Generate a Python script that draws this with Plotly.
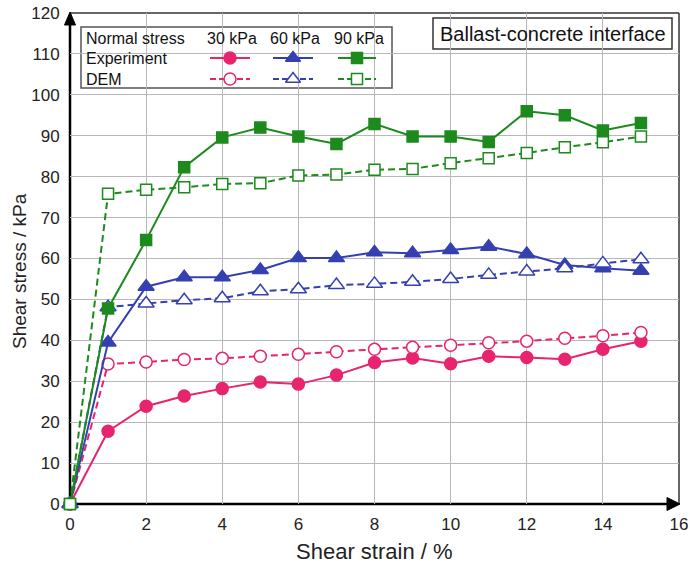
import plotly.graph_objects as go

# ---------------- data ----------------
strain = [0, 1, 2, 3, 4, 5, 6, 7, 8, 9, 10, 11, 12, 13, 14, 15]

exp_30 = [0, 17.8, 23.9, 26.4, 28.2, 29.8, 29.3, 31.5, 34.6, 35.7, 34.3, 36.1, 35.8, 35.4, 37.8, 39.8]
dem_30 = [0, 34.2, 34.7, 35.3, 35.6, 36.1, 36.6, 37.2, 37.8, 38.3, 38.8, 39.4, 39.8, 40.5, 41.1, 41.9]

exp_60 = [0, 39.5, 53.1, 55.4, 55.4, 57.2, 60.1, 60.1, 61.5, 61.3, 62.1, 62.9, 61.1, 58.4, 57.6, 57.0]
dem_60 = [0, 48.1, 49.0, 49.8, 50.3, 52.0, 52.5, 53.5, 53.8, 54.3, 55.0, 56.0, 56.8, 57.6, 58.8, 59.8]

exp_90 = [0, 47.8, 64.5, 82.3, 89.6, 92.0, 89.8, 88.0, 92.9, 89.8, 89.8, 88.5, 96.0, 95.0, 91.3, 93.1]
dem_90 = [0, 75.8, 76.8, 77.4, 78.2, 78.4, 80.3, 80.5, 81.7, 81.9, 83.3, 84.5, 85.8, 87.2, 88.4, 89.8]

stress_labels = ["30 kPa", "60 kPa", "90 kPa"]
x_ticks = [0, 2, 4, 6, 8, 10, 12, 14, 16]
y_ticks = list(range(0, 121, 10))

# ---------------- styles ----------------
PINK = "#E8246F"
BLUE = "#3540B0"
GREEN = "#1C8A1C"
FONT = "Liberation Sans, Arial, sans-serif"

W, H = 690, 568
# plot area on screen: x 70..679, y 13..504
ML, MR, MT, MB = 70, 11, 13, 64
PW, PH = W - ML - MR, H - MT - MB


def px(x):
    """screen pixel x -> paper"""
    return (x - ML) / PW


def py(y):
    """screen pixel y -> paper"""
    return (H - MB - y) / PH


series = [
    ("Experiment 30 kPa", exp_30, PINK, "circle", 12, True),
    ("DEM 30 kPa", dem_30, PINK, "circle", 12, False),
    ("Experiment 60 kPa", exp_60, BLUE, "triangle-up", 14, True),
    ("DEM 60 kPa", dem_60, BLUE, "triangle-up", 14, False),
    ("Experiment 90 kPa", exp_90, GREEN, "square", 11, True),
    ("DEM 90 kPa", dem_90, GREEN, "square", 11, False),
]

fig = go.Figure()

for name, vals, col, sym, size, solid in series:
    fig.add_trace(go.Scatter(
        x=strain, y=vals, name=name, mode="lines+markers",
        line=dict(color=col, width=2, dash="solid" if solid else "7px,4px"),
        marker=dict(symbol=sym, size=size,
                    color=col if solid else "white",
                    line=dict(color=col, width=1.5)),
        cliponaxis=False, showlegend=False,
    ))

# ---------------- custom legend table (pixel overlay axes) ----------------
leg_cols = [(210, 230, 250), (273, 293, 313), (338, 357, 376)]
rows = [(58, True), (79, False)]
colors = [PINK, BLUE, GREEN]
symbols = [("circle", 12), ("triangle-up", 13), ("square", 11)]
for (x0, xm, x1), col, (sym, size) in zip(leg_cols, colors, symbols):
    for yrow, solid in rows:
        fig.add_trace(go.Scatter(
            x=[x0, x1], y=[yrow, yrow], mode="lines", xaxis="x2", yaxis="y2",
            line=dict(color=col, width=2, dash="solid" if solid else "6px,3px"),
            showlegend=False, hoverinfo="skip"))
        fig.add_trace(go.Scatter(
            x=[xm], y=[yrow], mode="markers", xaxis="x2", yaxis="y2",
            marker=dict(symbol=sym, size=size, color=col if solid else "white",
                        line=dict(color=col, width=1.5)),
            showlegend=False, hoverinfo="skip"))

shapes = []
# legend box
shapes.append(dict(type="rect", xref="paper", yref="paper",
                   x0=px(81), x1=px(392), y0=py(27), y1=py(88),
                   line=dict(color="#555555", width=1.5), fillcolor="white", layer="between"))
# ballast box
shapes.append(dict(type="rect", xref="paper", yref="paper",
                   x0=px(433), x1=px(672), y0=py(18), y1=py(49),
                   line=dict(color="#333333", width=1.5), fillcolor="white", layer="between"))
# top and right borders
shapes.append(dict(type="line", xref="paper", yref="paper", x0=0, x1=1, y0=1, y1=1,
                   line=dict(color="#333333", width=1.5), layer="between"))
shapes.append(dict(type="line", xref="paper", yref="paper", x0=1, x1=1, y0=0, y1=1,
                   line=dict(color="#333333", width=1.5), layer="between"))
# main axes with arrows
shapes.append(dict(type="line", xref="paper", yref="paper", x0=0, x1=0, y0=0, y1=py(22),
                   line=dict(color="black", width=2.5), layer="between"))
shapes.append(dict(type="line", xref="paper", yref="paper", x0=0, x1=px(670), y0=0, y1=0,
                   line=dict(color="black", width=2.5), layer="between"))
shapes.append(dict(type="path", xref="paper", yref="paper",
                   path=f"M {px(70)},{py(12)} L {px(64.5)},{py(25)} L {px(75.5)},{py(25)} Z",
                   fillcolor="black", line=dict(color="black", width=1), layer="between"))
shapes.append(dict(type="path", xref="paper", yref="paper",
                   path=f"M {px(680)},{py(504)} L {px(667)},{py(497.5)} L {px(667)},{py(510.5)} Z",
                   fillcolor="black", line=dict(color="black", width=1), layer="between"))

annotations = []
legend_font = dict(family=FONT, size=16, color="#111111")
annotations.append(dict(text="Normal stress", x=px(84), y=py(38), xref="paper", yref="paper",
                        xanchor="left", yanchor="middle", showarrow=False, font=legend_font))
annotations.append(dict(text="Experiment", x=px(84), y=py(58), xref="paper", yref="paper",
                        xanchor="left", yanchor="middle", showarrow=False, font=legend_font))
annotations.append(dict(text="DEM", x=px(84), y=py(79), xref="paper", yref="paper",
                        xanchor="left", yanchor="middle", showarrow=False, font=legend_font))
for lab, (x0, xm, x1) in zip(stress_labels, leg_cols):
    annotations.append(dict(text=lab, x=px(xm + 2), y=py(38), xref="paper", yref="paper",
                            xanchor="center", yanchor="middle", showarrow=False, font=legend_font))
annotations.append(dict(text="Ballast-concrete interface", x=px(552.5), y=py(33.5),
                        xref="paper", yref="paper", xanchor="center", yanchor="middle",
                        showarrow=False, font=dict(family=FONT, size=20, color="#111111")))
annotations.append(dict(text="Shear strain / %", x=px(374), y=py(551), xref="paper", yref="paper",
                        xanchor="center", yanchor="middle", showarrow=False,
                        font=dict(family=FONT, size=22, color="#222222")))
annotations.append(dict(text="Shear stress / kPa", x=px(19), y=py(271), xref="paper", yref="paper",
                        xanchor="center", yanchor="middle", showarrow=False, textangle=-90,
                        font=dict(family=FONT, size=19, color="#222222")))

fig.update_layout(
    width=W, height=H,
    margin=dict(l=ML, r=MR, t=MT, b=MB, autoexpand=False),
    paper_bgcolor="white", plot_bgcolor="white",
    font=dict(family=FONT, color="#222222"),
    hovermode=False,
    xaxis=dict(range=[0, 16], tickvals=x_ticks, showgrid=True, gridcolor="#b8b8b8", gridwidth=1,
               zeroline=False, showline=False, ticks="outside", ticklen=5, automargin=False,
               ticklabeloverflow="allow",
               tickcolor="rgba(0,0,0,0)", tickfont=dict(family=FONT, size=17, color="#222222")),
    yaxis=dict(range=[0, 120], tickvals=y_ticks, showgrid=True, gridcolor="#b8b8b8", gridwidth=1,
               zeroline=False, showline=False, ticks="outside", ticklen=6, automargin=False,
               ticklabeloverflow="allow",
               tickcolor="rgba(0,0,0,0)", tickfont=dict(family=FONT, size=17, color="#222222")),
    xaxis2=dict(range=[70, 679], overlaying="x", visible=False, fixedrange=True),
    yaxis2=dict(range=[504, 13], overlaying="y", visible=False, fixedrange=True),
    shapes=shapes, annotations=annotations, showlegend=False,
)

fig.write_html("out.html",
               config={"displayModeBar": False, "responsive": False},
               post_script="document.body.style.margin='0';document.body.style.overflow='hidden';")
